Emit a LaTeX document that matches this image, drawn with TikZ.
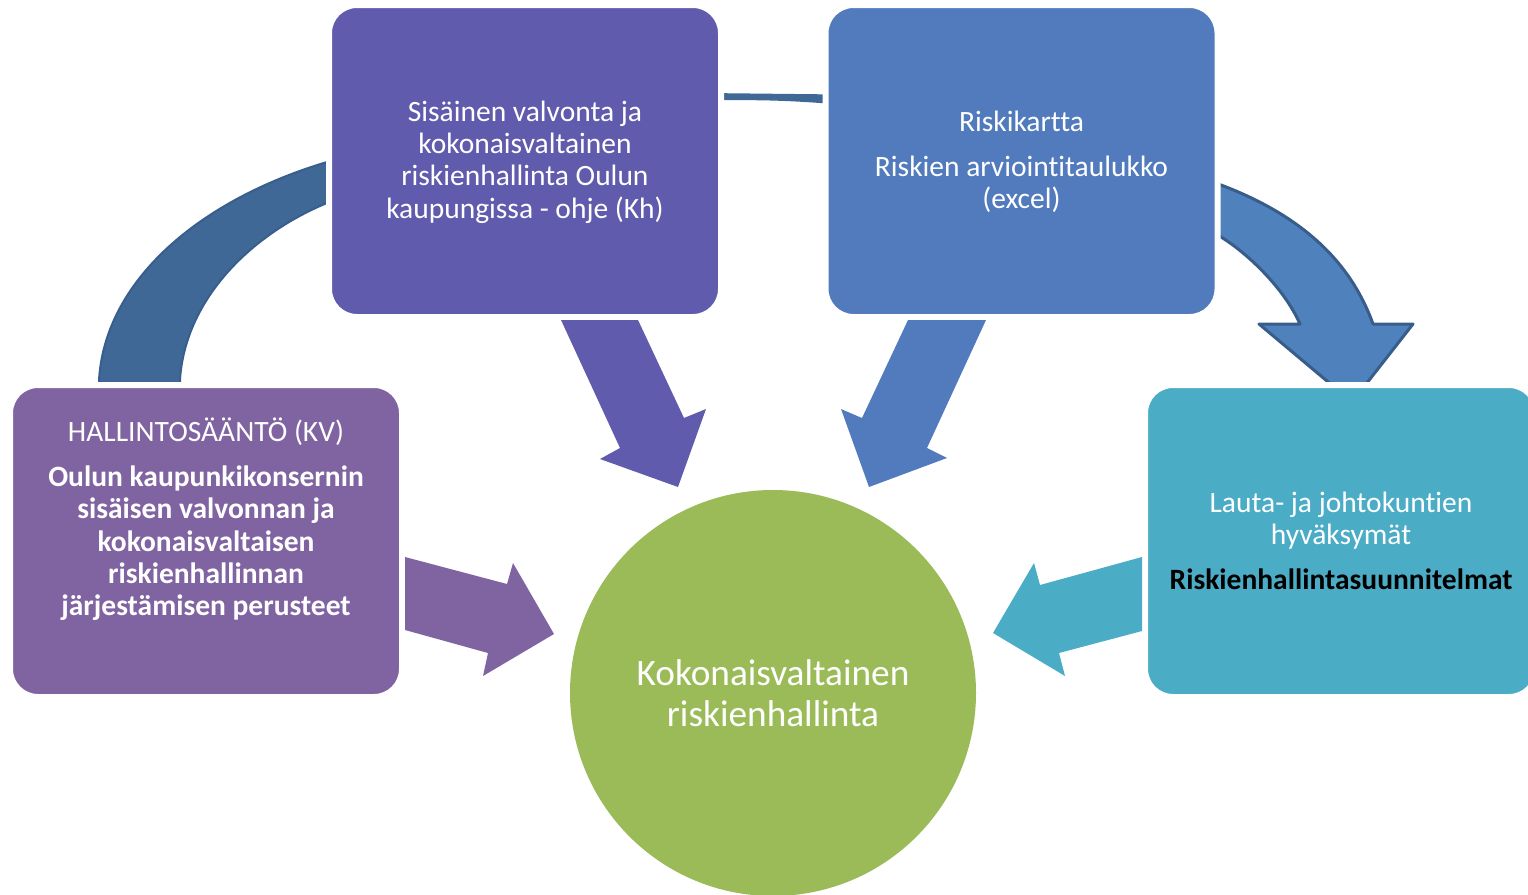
\documentclass[tikz,border=0pt]{standalone}
\usepackage{fontspec}
\setmainfont{Carlito}[Ligatures=NoCommon]
\definecolor{cKh}{RGB}{96,91,172}
\definecolor{cRk}{RGB}{82,123,189}
\definecolor{cHs}{RGB}{128,100,162}
\definecolor{cLj}{RGB}{75,172,198}
\definecolor{cKr}{RGB}{155,187,89}
\definecolor{bandfill}{RGB}{63,104,151}
\definecolor{bandline}{RGB}{55,94,140}
\definecolor{arrfill}{RGB}{79,129,189}
\definecolor{arrline}{RGB}{56,93,138}
\begin{document}
\begin{tikzpicture}[x=1pt,y=-1pt,
  box/.style={rectangle, rounded corners=28pt, minimum width=392pt, minimum height=312pt,
              inner sep=0pt, draw=white, line width=6pt},
  txt/.style={text=white, align=center, inner sep=0pt, font=\fontsize{29.5}{32.3}\selectfont},
  bigtxt/.style={text=white, align=center, inner sep=0pt, font=\fontsize{37.3}{41}\selectfont},
  band/.style={fill=bandfill, draw=bandline, line width=2pt, line join=round},
  curvedarrow/.style={fill=arrfill, draw=arrline, line width=3pt, line join=round},
]
\useasboundingbox (0,0) rectangle (1528,894);

% curved connectors (behind boxes)
\path[band] (99,405) -- (99,380) .. controls (105,280) and (200,200) .. (327,162)
  -- (350,155) -- (350,196) -- (327,203) .. controls (250,235) and (185,300) .. (180,380)
  -- (180,405) -- cycle;
\path[fill=bandfill] (705,93) -- (840,94.5) -- (840,104.5) .. controls (790,100.5) and (760,99.5) .. (705,100.5) -- cycle;
\path[curvedarrow] (1195,177) -- (1221,185) .. controls (1300,215) and (1350,260) .. (1373,324)
  -- (1413,324) -- (1352,402) -- (1259,324) -- (1300,324)
  .. controls (1285,290) and (1250,255) .. (1221,237) -- (1195,222) -- cycle;

% boxes
\node[box, fill=cKh] (kh) at (525,161) {};
\node[box, fill=cRk] (rk) at (1021.5,161) {};
\node[box, fill=cHs] (hs) at (206,541) {};
\node[box, fill=cLj] (lj) at (1341,541) {};

% straight block arrows
\fill[cKh] (561,320) -- (638,320) -- (684,418) -- (706,409) -- (678,487) -- (600,459) -- (620,448) -- cycle;
\fill[cRk] (908,320) -- (986,320) -- (927,448) -- (947,458) -- (869,487) -- (841,409) -- (862,418) -- cycle;
\fill[cHs] (405,557) -- (507,584) -- (513,563) -- (554,634) -- (483,676) -- (488,653) -- (405,630) -- cycle;
\fill[cLj] (1142,557) -- (1040,585) -- (1034,563) -- (993,633) -- (1065,676) -- (1059,653) -- (1142,631) -- cycle;

% circle
\node[circle, fill=cKr, minimum size=406pt, inner sep=0pt] (kr) at (773,693) {};

% texts
\node[txt] (tkh) at (525,162) {Sisäinen valvonta ja\\kokonaisvaltainen\\riskienhallinta Oulun\\kaupungissa - ohje (Kh)};
\node[txt] (trk) at (1021.5,162) {Riskikartta\\[12pt]Riskien arviointitaulukko\\(excel)};
\node[txt, anchor=north] (ths) at (206,417.5) {HALLINTOSÄÄNTÖ (KV)\\[13pt]\textbf{Oulun kaupunkikonsernin}\\\textbf{sisäisen valvonnan ja}\\\textbf{kokonaisvaltaisen}\\\textbf{riskienhallinnan}\\\textbf{järjestämisen perusteet}};
\node[txt] (tlj) at (1341,541) {Lauta- ja johtokuntien\\hyväksymät\\[13pt]\textcolor{black}{\textbf{Riskienhallintasuunnitelmat}}};
\node[bigtxt] (tkr) at (773,693) {Kokonaisvaltainen\\riskienhallinta};
\end{tikzpicture}
\end{document}
